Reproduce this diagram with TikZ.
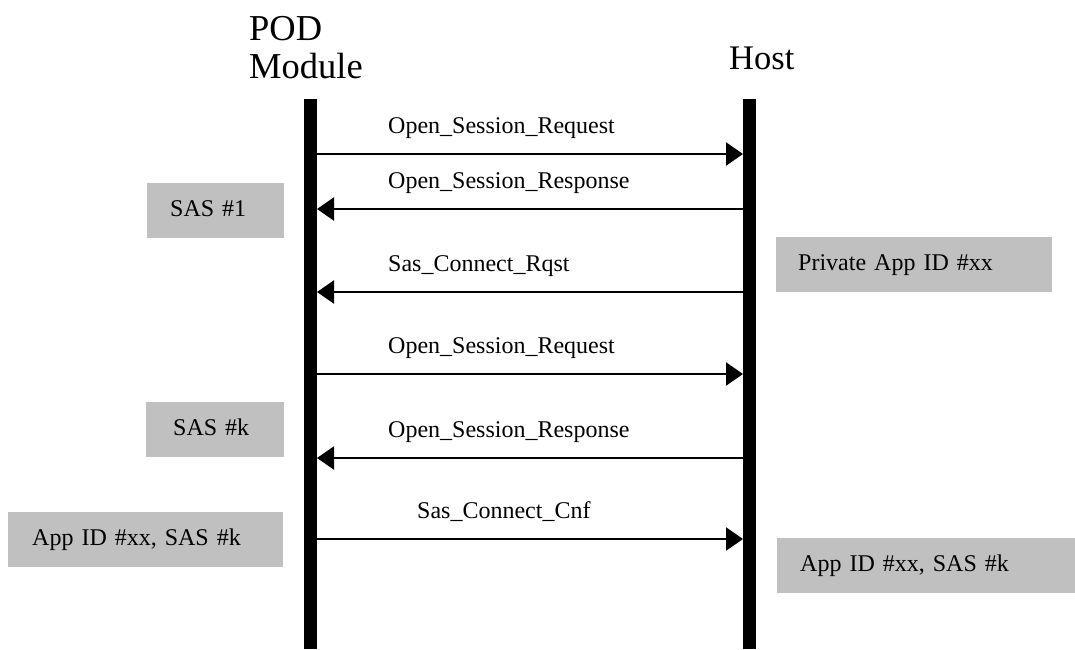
\documentclass[tikz,border=0pt]{standalone}
\usepackage{fontspec}
\setmainfont{Liberation Serif}
\usetikzlibrary{arrows.meta}
\definecolor{boxgray}{HTML}{C0C0C0}
\begin{document}
\begin{tikzpicture}[x=1pt,y=-1pt,
  lifeline/.style={line width=13pt},
  msg/.style={line width=2.3pt,-{Triangle[length=17pt,width=23pt]}},
  msglabel/.style={inner sep=0pt, anchor=base west, font=\fontsize{24}{28}\selectfont},
  header/.style={inner sep=0pt, anchor=base west},
  graybox/.style={fill=boxgray, draw=none, anchor=north west, minimum height=55pt,
    inner ysep=0pt, align=left, text height=17pt, text depth=5pt,
    font=\fontsize{24}{28}\selectfont}]
\useasboundingbox (0,0) rectangle (1075,649);

% headers
\node[header, text depth=0pt, font=\fontsize{36.5}{40}\selectfont] (pod) at (249,40) {POD};
\node[header, font=\fontsize{36.5}{40}\selectfont] (module) at (249,78) {Module};
\node[header, font=\fontsize{34.5}{38}\selectfont] (host) at (729,69) {Host};

% lifelines
\coordinate (podtop) at (310.5,99);
\coordinate (podbot) at (310.5,649);
\coordinate (hosttop) at (749.5,99);
\coordinate (hostbot) at (749.5,649);
\draw[lifeline] (podtop) -- (podbot);
\draw[lifeline] (hosttop) -- (hostbot);

% message end points
\coordinate (p1) at (317,154); \coordinate (h1) at (743,154);
\coordinate (p2) at (317,209); \coordinate (h2) at (743,209);
\coordinate (p3) at (317,292); \coordinate (h3) at (743,292);
\coordinate (p4) at (317,374); \coordinate (h4) at (743,374);
\coordinate (p5) at (317,458); \coordinate (h5) at (743,458);
\coordinate (p6) at (317,539); \coordinate (h6) at (743,539);

\draw[msg] (p1) -- (h1);
\draw[msg] (h2) -- (p2);
\draw[msg] (h3) -- (p3);
\draw[msg] (p4) -- (h4);
\draw[msg] (h5) -- (p5);
\draw[msg] (p6) -- (h6);

% message labels
\node[msglabel] (m1) at (388,133) {Open\_Session\_Request};
\node[msglabel] (m2) at (388,188) {Open\_Session\_Response};
\node[msglabel] (m3) at (388,271) {Sas\_Connect\_Rqst};
\node[msglabel] (m4) at (388,353) {Open\_Session\_Request};
\node[msglabel] (m5) at (388,437) {Open\_Session\_Response};
\node[msglabel] (m6) at (417,518) {Sas\_Connect\_Cnf};

% gray boxes
\node[graybox, inner xsep=23.5pt, text width=90pt] (sas1) at (146.5,183) {SAS \#1};
\node[graybox, inner xsep=22pt, text width=232pt] (priv) at (776,237) {Private App ID \#xx};
\node[graybox, inner xsep=27pt, text width=84pt] (sask) at (146,402) {SAS \#k};
\node[graybox, inner xsep=24pt, text width=227pt] (appl) at (8,512) {App ID \#xx, SAS \#k};
\node[graybox, inner xsep=23pt, text width=252pt] (appr) at (777,538) {App ID \#xx, SAS \#k};
\end{tikzpicture}
\end{document}
